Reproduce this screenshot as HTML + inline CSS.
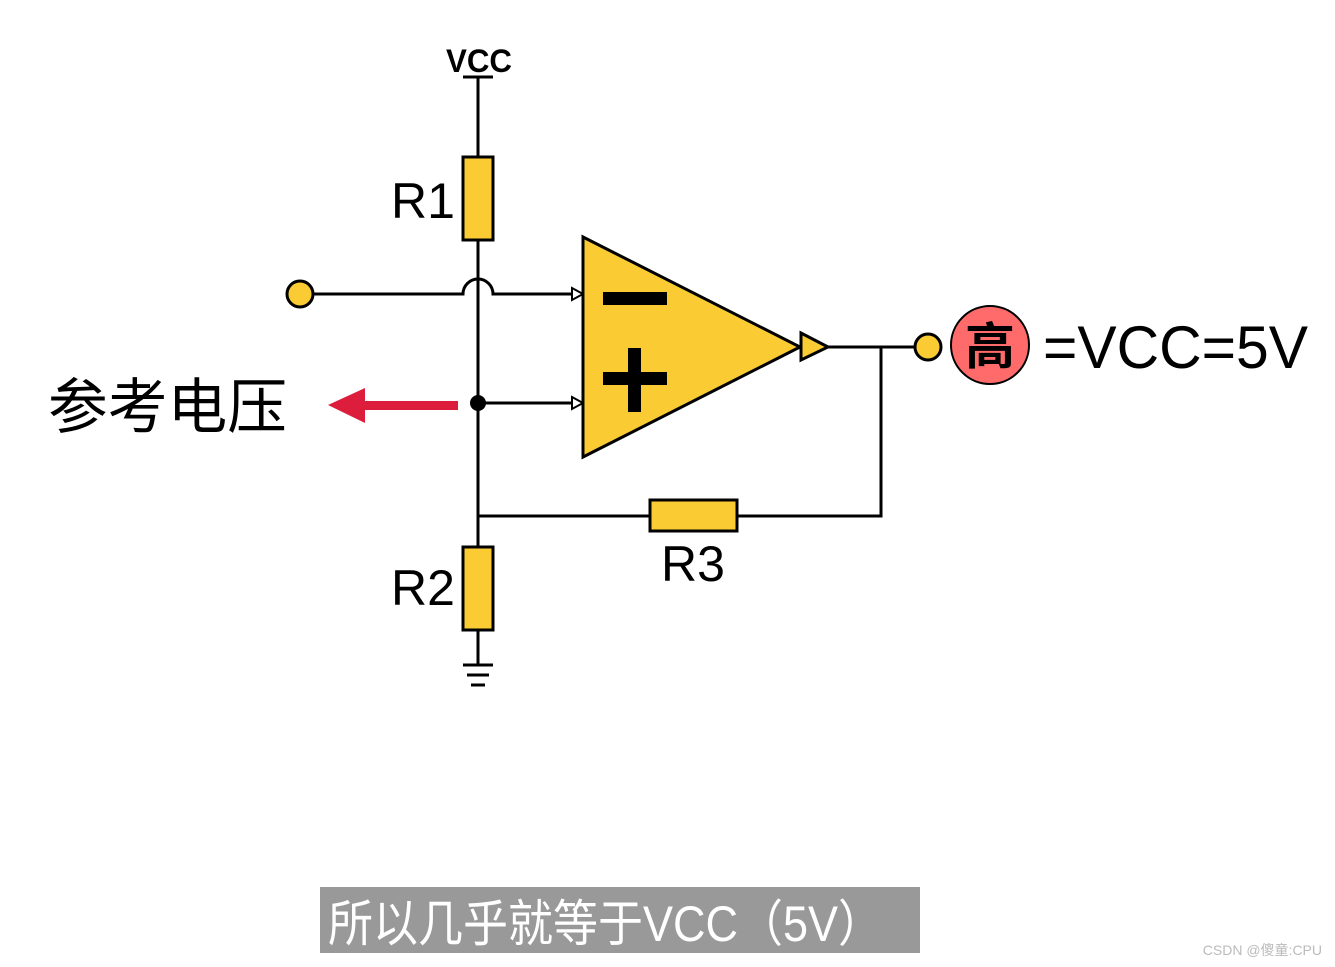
<!DOCTYPE html>
<html><head><meta charset="utf-8"><style>
body{margin:0;background:#fff;}
svg{display:block}
</style></head><body>
<svg width="1335" height="967" viewBox="0 0 1335 967" xmlns="http://www.w3.org/2000/svg" font-family="Liberation Sans, Noto Sans CJK SC, sans-serif">
<rect width="1335" height="967" fill="#fff"/>
<g stroke="#000" stroke-width="3" fill="none">
<text x="446" y="72" font-size="32" font-weight="bold" textLength="66" lengthAdjust="spacingAndGlyphs" fill="#000" stroke="none">VCC</text>
<line x1="463" y1="77" x2="493" y2="77"/>
<line x1="478" y1="77" x2="478" y2="665"/>
<path d="M313 294 H463 A15 15 0 0 1 493 294 H575"/>
<line x1="478" y1="403" x2="575" y2="403"/>
<line x1="828" y1="347" x2="915" y2="347"/>
<polyline points="881,347 881,516 478,516"/>
<line x1="463" y1="665" x2="493" y2="665"/>
<line x1="467" y1="675" x2="489" y2="675"/>
<line x1="471" y1="685" x2="485" y2="685"/>
</g>
<g stroke="#000" stroke-width="2" fill="#fff">
<polygon points="572,288 583,294 572,300"/>
<polygon points="572,397 583,403 572,409"/>
</g>
<g stroke="#000" stroke-width="3" fill="#fbcb33">
<rect x="463" y="157" width="30" height="83"/>
<rect x="463" y="547" width="30" height="83"/>
<rect x="650" y="500" width="87" height="31"/>
<polygon points="583,237 583,457 800,347"/>
<polygon points="801,333 801,360 828,347"/>
<circle cx="300" cy="294" r="13"/>
<circle cx="928" cy="347" r="13"/>
</g>
<circle cx="478" cy="403" r="8" fill="#000"/>
<rect x="603" y="292" width="64" height="13" fill="#000"/>
<rect x="603" y="372" width="64" height="13" fill="#000"/>
<rect x="628" y="348" width="13" height="64" fill="#000"/>
<text x="391" y="218" font-size="50">R1</text>
<text x="391" y="605" font-size="50">R2</text>
<text x="661" y="581" font-size="50">R3</text>
<rect x="365" y="401" width="93" height="9" fill="#dc1e3c"/>
<polygon points="328,405 365,388 365,423" fill="#dc1e3c"/>
<text x="48" y="428" font-size="60" textLength="239" lengthAdjust="spacingAndGlyphs" font-family="Noto Sans CJK SC, sans-serif">参考电压</text>
<circle cx="990" cy="345" r="39" fill="#ff6b6b" stroke="#000" stroke-width="2"/>
<text x="990" y="364" font-size="50" font-weight="bold" text-anchor="middle" font-family="Noto Sans CJK SC, sans-serif">高</text>
<text x="1043" y="368" font-size="60" textLength="265" lengthAdjust="spacingAndGlyphs">=VCC=5V</text>
<rect x="320" y="887" width="600" height="66" fill="#999"/>
<text x="328" y="941" font-size="50" fill="#fff" textLength="555" lengthAdjust="spacingAndGlyphs" font-family="Liberation Sans, Noto Sans CJK SC, sans-serif">所以几乎就等于VCC（5V）</text>
<text x="1322" y="955" font-size="14" fill="#bbb" text-anchor="end">CSDN @傻童:CPU</text>
</svg>
</body></html>
